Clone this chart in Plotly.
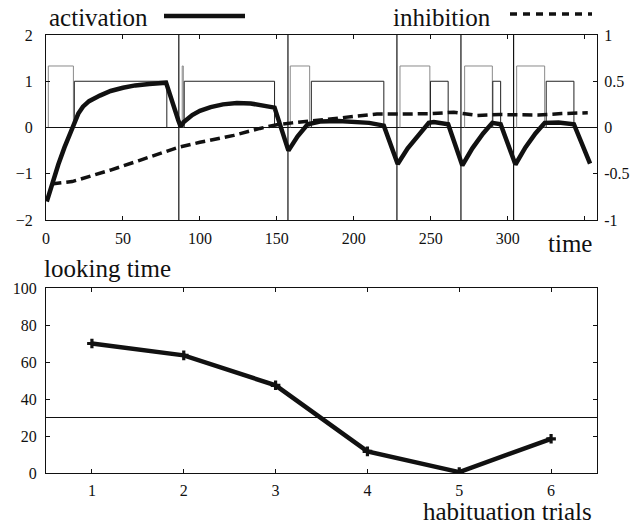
import plotly.graph_objects as go

# ---------------- data ----------------
# top panel: activation (left axis) and inhibition (right axis) over time
activation_t = [0.5, 4, 8, 12, 16, 18, 21, 24, 28, 35, 42, 50, 58, 67, 78, 86, 87.5, 89.5,
                95, 100, 107, 115, 124, 133, 141, 148.5, 157.5, 163.5, 170, 178, 190, 200, 210,
                219.5, 228.5, 235, 242, 248.7, 252, 261.3, 270.5, 277, 284, 290, 295.4, 305,
                311.5, 318, 324, 333, 343, 353.5]
activation_v = [-1.6, -1.2, -0.8, -0.43, -0.1, 0.08, 0.3, 0.45, 0.57, 0.69, 0.79, 0.86, 0.91,
                0.94, 0.97, 0.15, 0.02, 0.12, 0.27, 0.36, 0.44, 0.5, 0.53, 0.52, 0.48, 0.43,
                -0.5, -0.19, 0.07, 0.13, 0.14, 0.12, 0.1, 0.04, -0.79, -0.45, -0.15, 0.1, 0.12,
                0.07, -0.82, -0.45, -0.13, 0.1, 0.07, -0.8, -0.43, -0.13, 0.1, 0.11, 0.07, -0.78]

inhibition_t = [3.5, 10, 17, 30, 42, 60, 86, 100, 122, 139, 150, 160, 175, 190, 205, 215, 230,
                250, 265, 280, 295, 305, 320, 335, 352]
inhibition_v = [-0.61, -0.6, -0.585, -0.52, -0.46, -0.36, -0.215, -0.16, -0.085, -0.01, 0.03,
                0.05, 0.075, 0.1, 0.13, 0.145, 0.145, 0.15, 0.165, 0.13, 0.14, 0.135, 0.135,
                0.15, 0.16]

# stimulus input (left-axis units): strong (novel) phase and weaker phase
stim_high_on = [1.5, 88.5, 158.7, 230, 272, 305.8]
stim_high_off = [17.8, 89.2, 171.3, 249.4, 290, 324]
stim_high_level = 1.33
stim_low_on = [18.4, 89.8, 172.4, 249.8, 290.3, 325]
stim_low_off = [78.5, 148.5, 219.5, 261.3, 295.4, 343]
stim_low_level = 1.0

trial_bounds = [86.3, 157.2, 228, 269.6, 303.8]

time_ticks = [0, 50, 100, 150, 200, 250, 300, 350]
time_labels = ["0", "50", "100", "150", "200", "250", "300", ""]
left_ticks = [-2, -1, 0, 1, 2]
right_ticks = [-1, -0.5, 0, 0.5, 1]
right_labels = ["-1", "-0.5", "0", "0.5", "1"]

# bottom panel: looking time per habituation trial
trials = [1, 2, 3, 4, 5, 6]
looking_time = [70, 63.6, 47.4, 11.7, 0.5, 18.5]
criterion = 30
looking_ticks = [0, 20, 40, 60, 80, 100]

# ---------------- layout helpers (page pixels -> paper) ----------------
W, H = 644, 525
FRAME_L, FRAME_R, FRAME_T, FRAME_B = 46, 597, 35, 473   # page pixels
ML, MT = FRAME_L, FRAME_T
MR, MB = W - FRAME_R, H - FRAME_B
PW, PH = W - ML - MR, H - MT - MB


def px(x):
    return (x - FRAME_L) / PW


def py(y):
    return (FRAME_B - y) / PH


def boxes(ons, offs, level):
    xs, ys = [], []
    for a, b in zip(ons, offs):
        xs += [a, a, b, b, None]
        ys += [0, level, level, 0, None]
    return xs, ys


FONT = "Liberation Serif"
BLACK = "#111111"

fig = go.Figure()

hx, hy = boxes(stim_high_on, stim_high_off, stim_high_level)
fig.add_trace(go.Scatter(x=hx, y=hy, mode="lines", line=dict(color="#8a8a8a", width=1),
                         xaxis="x", yaxis="y", showlegend=False, hoverinfo="skip"))
lx, ly = boxes(stim_low_on, stim_low_off, stim_low_level)
fig.add_trace(go.Scatter(x=lx, y=ly, mode="lines", line=dict(color="#222222", width=1),
                         xaxis="x", yaxis="y", showlegend=False, hoverinfo="skip"))

fig.add_trace(go.Scatter(x=inhibition_t, y=inhibition_v, mode="lines", name="inhibition",
                         line=dict(color=BLACK, width=3.5, dash="10px,5px"),
                         xaxis="x", yaxis="y2", showlegend=False))
fig.add_trace(go.Scatter(x=activation_t, y=activation_v, mode="lines", name="activation",
                         line=dict(color=BLACK, width=4.5),
                         xaxis="x", yaxis="y", showlegend=False))

for tb in trial_bounds:
    fig.add_shape(type="line", xref="x", yref="y domain", x0=tb, x1=tb, y0=0, y1=1,
                  line=dict(color=BLACK, width=1.2))

fig.add_trace(go.Scatter(x=trials, y=looking_time, mode="lines+markers",
                         line=dict(color=BLACK, width=4.5),
                         marker=dict(symbol="cross", size=8, color=BLACK),
                         xaxis="x2", yaxis="y3", showlegend=False))
fig.add_shape(type="line", xref="x2 domain", yref="y3", x0=0, x1=1, y0=criterion, y1=criterion,
              line=dict(color=BLACK, width=1.2))

top_dom = [py(220), 1]
bot_dom = [0, py(288)]

axis_common = dict(showgrid=False, zeroline=False, showline=True, linecolor=BLACK, linewidth=1,
                   ticks="inside", ticklen=4, tickcolor=BLACK, automargin=False,
                   tickfont=dict(family=FONT, size=16, color=BLACK))

fig.update_layout(
    template="none",
    width=W, height=H, margin=dict(l=ML, r=MR, t=MT, b=MB, pad=0),
    paper_bgcolor="white", plot_bgcolor="white", showlegend=False,
    font=dict(family=FONT, color=BLACK),
    xaxis=dict(axis_common, domain=[0, 1], anchor="y", range=[0, 358], tickvals=time_ticks,
               ticktext=time_labels, mirror="ticks", ticklabelstandoff=4),
    yaxis=dict(axis_common, domain=top_dom, anchor="x", range=[-2, 2], tickvals=left_ticks,
               mirror="ticks", zeroline=True, zerolinecolor=BLACK, zerolinewidth=1,
               ticklabelstandoff=9),
    yaxis2=dict(axis_common, overlaying="y", side="right", anchor="x", range=[-1, 1],
                tickvals=right_ticks, ticktext=right_labels, ticklabelstandoff=3),
    xaxis2=dict(axis_common, domain=[0, 1], anchor="y3", range=[0.5, 6.5], tickvals=trials,
                mirror="ticks", ticklabelstandoff=3),
    yaxis3=dict(axis_common, domain=bot_dom, anchor="x2", range=[0, 100], tickvals=looking_ticks,
                mirror="ticks", ticklabelstandoff=5),
)

lab_font = dict(family=FONT, size=25, color=BLACK)
ann = [
    ("activation", 47, 17),
    ("inhibition", 391, 17),
    ("time", 546, 243),
    ("looking time", 42, 268),
    ("habituation trials", 421, 512),
]
for txt, x, y in ann:
    fig.add_annotation(text=txt, xref="paper", yref="paper", x=px(x), y=py(y),
                       xanchor="left", yanchor="middle", showarrow=False, font=lab_font)

# legend samples
fig.add_shape(type="line", xref="paper", yref="paper", x0=px(164), x1=px(245), y0=py(16), y1=py(16),
              line=dict(color=BLACK, width=4.5))
fig.add_shape(type="line", xref="paper", yref="paper", x0=px(510), x1=px(592), y0=py(14), y1=py(14),
              line=dict(color=BLACK, width=3.5, dash="7px,6px"))

# remove the default page margin so the figure sits at the window's top-left corner
fig.write_html("out.html", config={"displayModeBar": False},
               post_script="document.body.style.margin='0';")
